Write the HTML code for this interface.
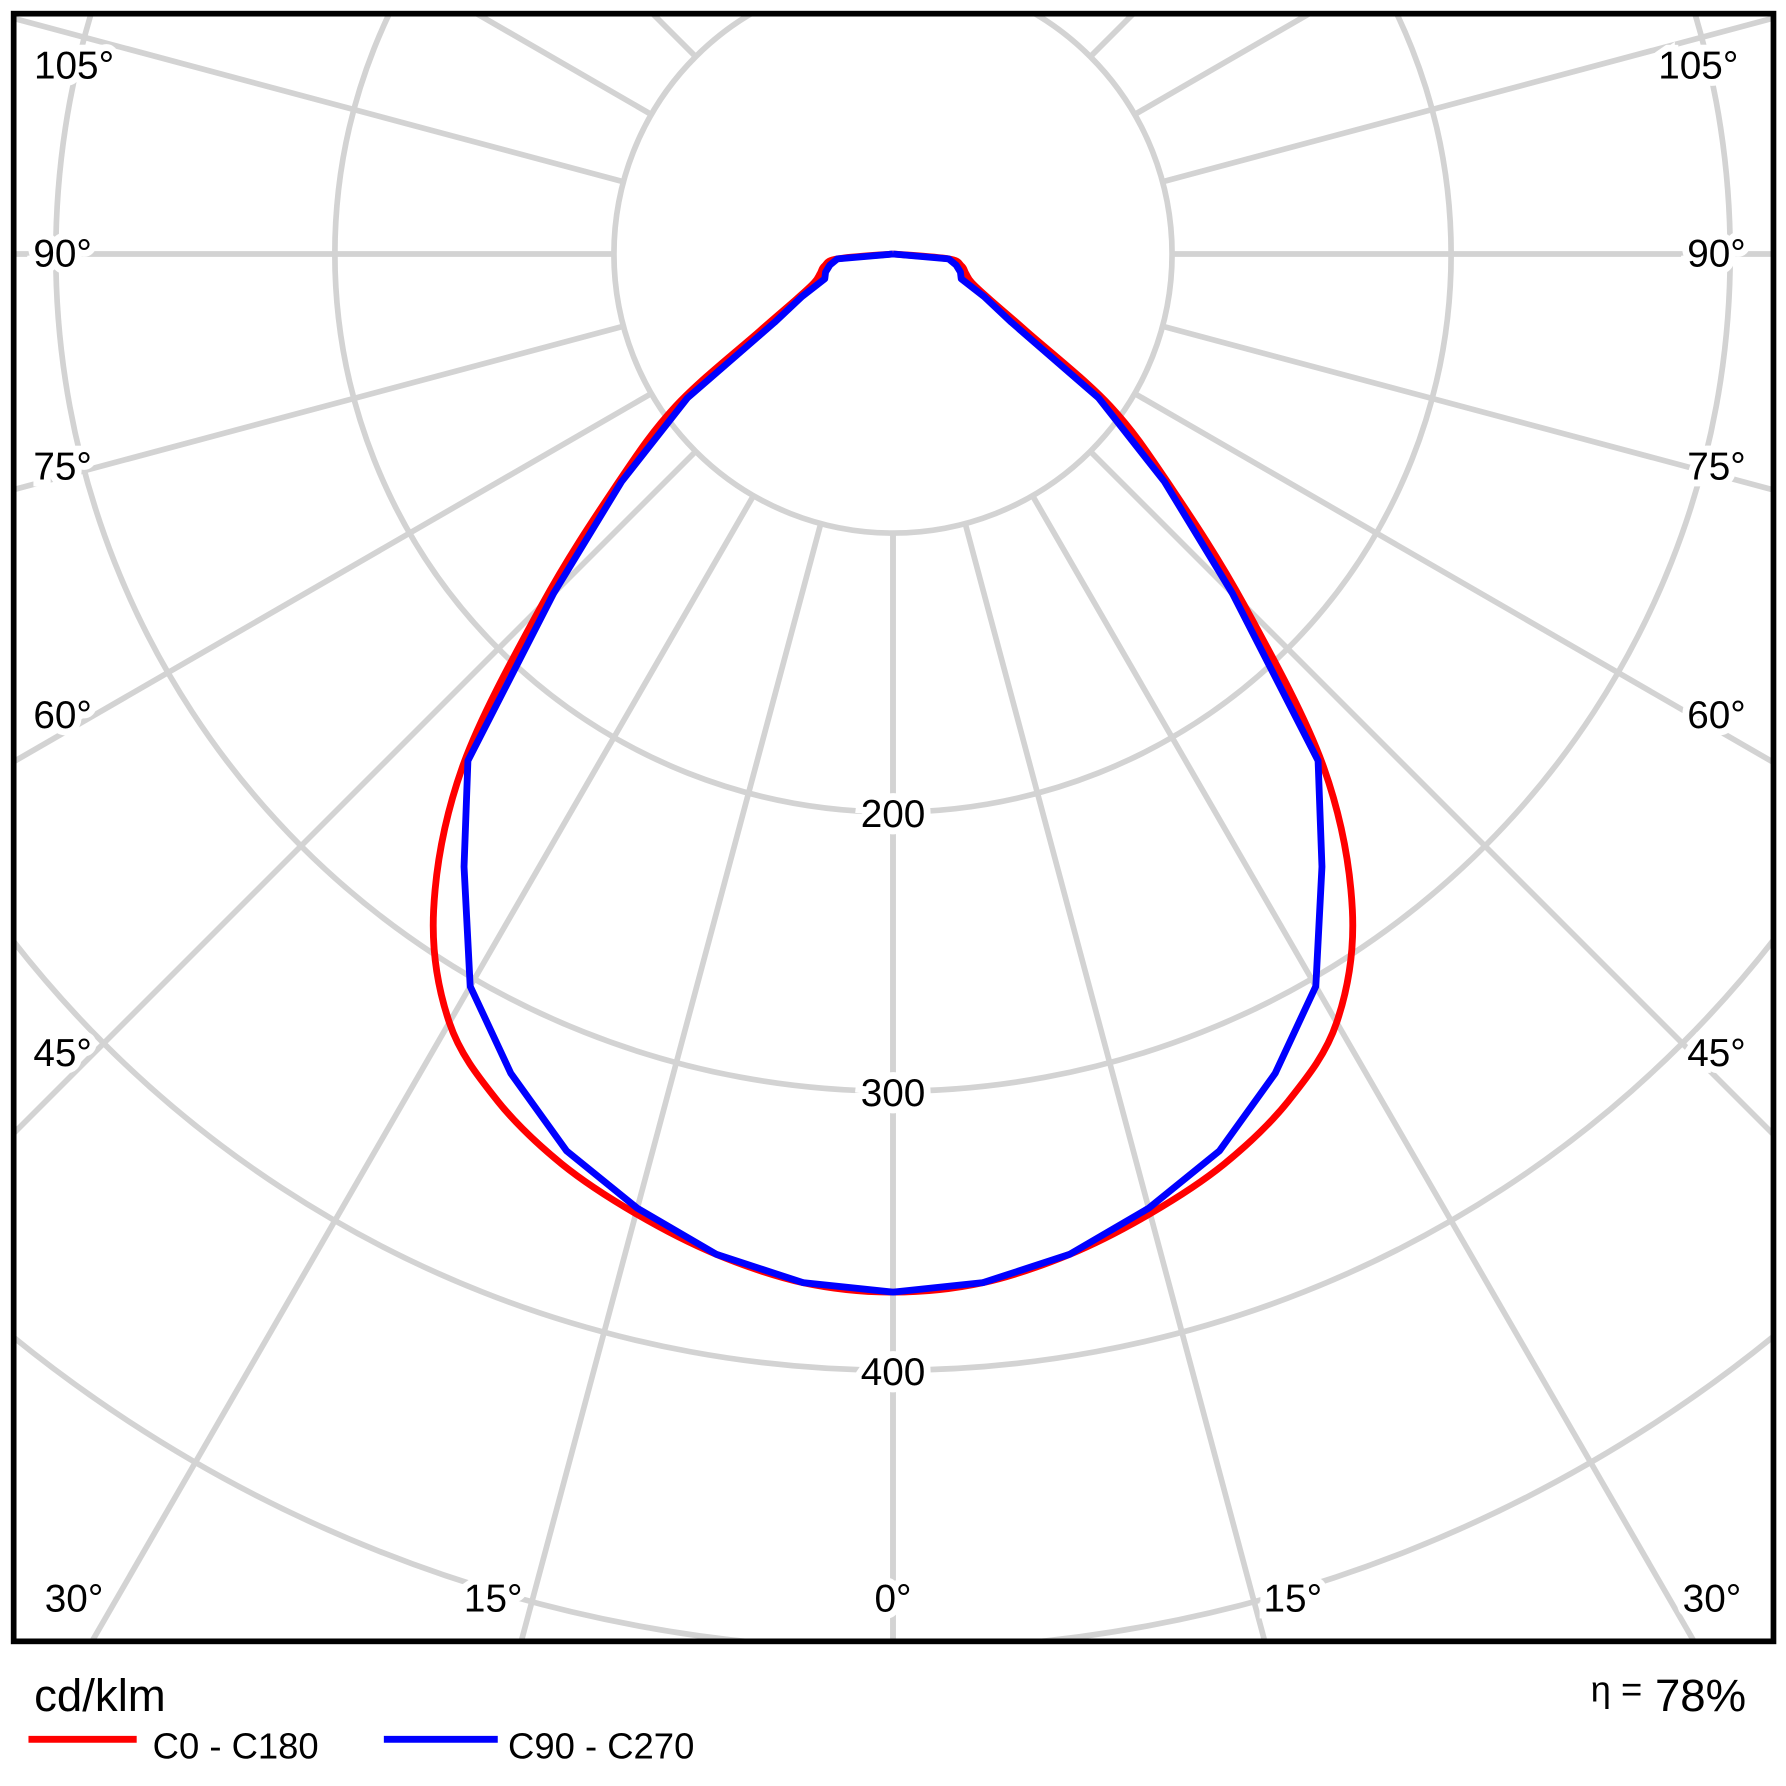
<!DOCTYPE html>
<html><head><meta charset="utf-8"><style>
html,body{margin:0;padding:0;background:#fff;width:1786px;height:1786px;overflow:hidden;}
svg{display:block;}
text{font-family:"Liberation Sans",sans-serif;}
</style></head><body>
<svg id="chart" width="1786" height="1786" viewBox="0 0 1568 1568" xmlns="http://www.w3.org/2000/svg">
<defs><clipPath id="fr"><rect x="12" y="12" width="1545" height="1429"/></clipPath></defs>
<g id="grid" clip-path="url(#fr)"></g>
<g id="curves" clip-path="url(#fr)"></g>
<g id="labels"></g>
<rect x="12" y="12" width="1545" height="1429" fill="none" stroke="#000" stroke-width="5"/>
<text x="30" y="1502" font-size="40">cd/klm</text>
<line x1="25" y1="1527" x2="120" y2="1527" stroke="#ff0000" stroke-width="6"/>
<text x="134" y="1544" font-size="32">C0 - C180</text>
<line x1="337" y1="1527" x2="437" y2="1527" stroke="#0000ff" stroke-width="6"/>
<text x="446" y="1544" font-size="32">C90 - C270</text>
<text x="1533" y="1502" font-size="40" text-anchor="end"><tspan font-size="32" dy="-8">η =</tspan><tspan dy="8"> 78%</tspan></text>
</svg>
<script>
const angles = [0,5,10,15,20,25,30,35,40,45,50,55,60,65,70,75,80,85,90];
const c0Values = [372,370,364,356,347,335,318,287,240,178,130,95,55,38,30,27,25,20,0];
const c90Values = [372,370,364,354,342,324,303,268,237,172,127,90,49,36,26,25,23,20,0];
const ringValues = [100,200,300,400,500,600,700];
const ringLabels = ["200","300","400"];
const ringLabelValues = [200,300,400];
const spokeAngles = [0,15,30,45,60,75,90,105,120,135,150,165,180];
const NS="http://www.w3.org/2000/svg";
const cx=784, cy=223, k=2.45;
function rScale(v){return v*k;}
function pt(theta,v,side){const a=theta*Math.PI/180;const r=rScale(v);return [cx+side*r*Math.sin(a), cy+r*Math.cos(a)];}
const grid=document.getElementById('grid');
ringValues.forEach(v=>{
  const c=document.createElementNS(NS,'circle');
  
  
  c.setAttribute('cx',cx);c.setAttribute('cy',cy);c.setAttribute('r',rScale(v));
  c.setAttribute('fill','none');c.setAttribute('stroke','#d3d3d3');c.setAttribute('stroke-width','5');
  grid.appendChild(c);
});
spokeAngles.forEach(t=>{[1,-1].forEach(s=>{
  const p1=pt(t,100,s),p2=pt(t,1000,s);
  const l=document.createElementNS(NS,'line');
  
  
  l.setAttribute('x1',p1[0]);l.setAttribute('y1',p1[1]);l.setAttribute('x2',p2[0]);l.setAttribute('y2',p2[1]);
  l.setAttribute('stroke','#d3d3d3');l.setAttribute('stroke-width','5');
  grid.appendChild(l);
});});
function curvePts(vals){
  const pts=[];
  for(let i=angles.length-1;i>=0;i--)pts.push(pt(angles[i],vals[i],-1));
  for(let i=1;i<angles.length;i++)pts.push(pt(angles[i],vals[i],1));
  return pts;
}
function smoothPath(pts){
  let d='M'+pts[0][0].toFixed(1)+','+pts[0][1].toFixed(1);
  for(let i=0;i<pts.length-1;i++){
    const p0=pts[Math.max(0,i-1)],p1=pts[i],p2=pts[i+1],p3=pts[Math.min(pts.length-1,i+2)];
    const c1=[p1[0]+(p2[0]-p0[0])/6,p1[1]+(p2[1]-p0[1])/6];
    const c2=[p2[0]-(p3[0]-p1[0])/6,p2[1]-(p3[1]-p1[1])/6];
    d+=' C'+c1.map(n=>n.toFixed(1)).join(',')+' '+c2.map(n=>n.toFixed(1)).join(',')+' '+p2.map(n=>n.toFixed(1)).join(',');
  }
  return d;
}
function curve(vals,color,name,smooth){
  const pts=curvePts(vals);
  let p;
  if(smooth){p=document.createElementNS(NS,'path');p.setAttribute('d',smoothPath(pts));}
  else{p=document.createElementNS(NS,'polyline');p.setAttribute('points',pts.map(q=>q[0].toFixed(1)+','+q[1].toFixed(1)).join(' '));}
  
  
  p.setAttribute('fill','none');p.setAttribute('stroke',color);p.setAttribute('stroke-width','6');p.setAttribute('stroke-linejoin','round');
  document.getElementById('curves').appendChild(p);
}
curve(c0Values,'#ff0000','curve-c0-c180',true);
curve(c90Values,'#0000ff','curve-c90-c270',false);
const labels=document.getElementById('labels');
function addLabel(x,y,txt,name,anchor){
  const t=document.createElementNS(NS,'text');
  
  
  t.setAttribute('x',x);t.setAttribute('y',y);t.setAttribute('font-size','34');
  t.setAttribute('text-anchor',anchor||'middle');t.setAttribute('dominant-baseline','central');
  t.setAttribute('stroke','#fff');t.setAttribute('stroke-width','12');t.setAttribute('paint-order','stroke');
  t.textContent=txt;labels.appendChild(t);
}
ringLabelValues.forEach((v,i)=>addLabel(cx,cy+rScale(v)+2,ringLabels[i],'ring-label-'+ringLabels[i]));
const angleLabelText=["0°","15°","30°","45°","60°","75°","90°","105°"];
const angleLabelPos=[[784,1404],[433,1404],[65,1404],[55,925],[55,628],[55,410],[55,223],[65,58]];
angleLabelText.forEach((s,i)=>{
  const p=angleLabelPos[i];
  addLabel(p[0],p[1],s,'angle-label-left');
  if(i>0)addLabel(1568-p[0]-(i>=3?6:0)+(i==7?-6:0),p[1],s,'angle-label-right');
});
</script>
</body></html>
